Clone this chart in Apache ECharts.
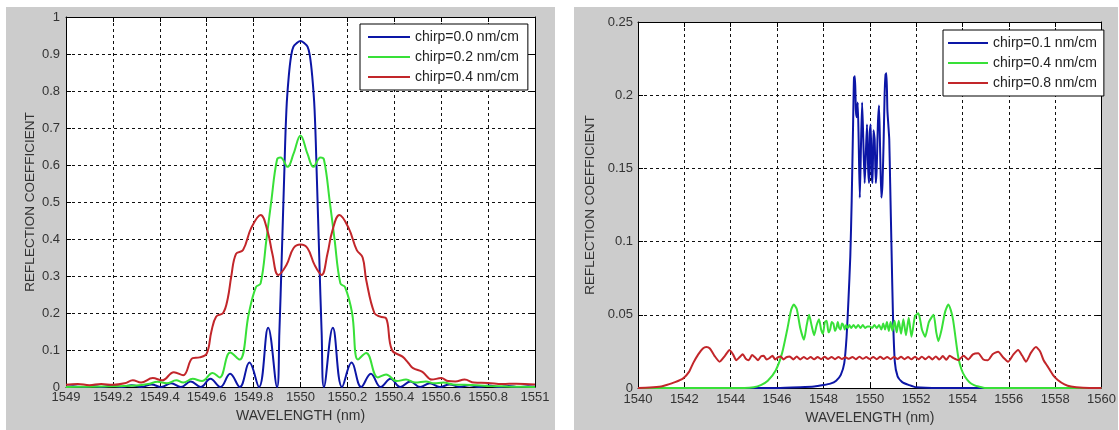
<!DOCTYPE html>
<html>
<head>
<meta charset="utf-8">
<script src="https://cdn.jsdelivr.net/npm/echarts/dist/echarts.min.js"></script>
<style>
html,body{margin:0;padding:0;background:#fff;}
#c{width:1119px;height:430px;}
</style>
</head>
<body>
<div id="c"></div>
<script>
// ---------- Left panel data (wavelength nm, reflection coefficient) ----------
const leftLegend = ['chirp=0.0 nm/cm', 'chirp=0.2 nm/cm', 'chirp=0.4 nm/cm'];
const leftBlue = [
  [1549.00,0.001],[1549.03,0.002],[1549.07,0],[1549.112,0.003],[1549.154,0],[1549.196,0.004],[1549.238,0],
  [1549.28,0.005],[1549.322,0],[1549.364,0.007],[1549.406,0],[1549.448,0.010],[1549.49,0],[1549.532,0.015],
  [1549.574,0],[1549.616,0.022],[1549.658,0],[1549.70,0.036],[1549.741,0],[1549.782,0.066],[1549.823,0],
  [1549.862,0.16],[1549.90,0],[1549.91,0.15],[1549.92,0.35],[1549.93,0.56],[1549.94,0.75],[1549.95,0.84],
  [1549.96,0.895],[1549.97,0.92],[1549.985,0.93],[1550.0,0.935],[1550.015,0.93],[1550.03,0.92],[1550.04,0.895],
  [1550.05,0.84],[1550.06,0.75],[1550.07,0.56],[1550.08,0.35],[1550.09,0.15],[1550.10,0],[1550.138,0.16],
  [1550.177,0],[1550.218,0.066],[1550.259,0],[1550.30,0.036],[1550.342,0],[1550.384,0.022],[1550.426,0],
  [1550.468,0.015],[1550.51,0],[1550.552,0.010],[1550.594,0],[1550.636,0.007],[1550.678,0],[1550.72,0.005],
  [1550.762,0],[1550.804,0.004],[1550.846,0],[1550.888,0.003],[1550.93,0],[1550.97,0.002],[1551.00,0.001]
];
const leftGreen = [
  [1549.00,0],[1549.10,0.001],[1549.20,0.002],[1549.30,0.004],[1549.35,0.008],[1549.39,0.014],[1549.43,0.010],
  [1549.47,0.018],[1549.50,0.012],[1549.54,0.022],[1549.58,0.016],[1549.625,0.038],[1549.655,0.026],
  [1549.70,0.093],[1549.74,0.074],[1549.78,0.20],[1549.81,0.27],[1549.83,0.28],[1549.855,0.40],[1549.875,0.50],
  [1549.90,0.615],[1549.915,0.62],[1549.945,0.595],[1549.97,0.63],[1550.0,0.68],[1550.03,0.63],[1550.055,0.595],
  [1550.085,0.62],[1550.10,0.615],[1550.125,0.50],[1550.145,0.40],[1550.17,0.28],[1550.19,0.27],[1550.22,0.20],
  [1550.245,0.074],[1550.28,0.092],[1550.33,0.026],[1550.365,0.034],[1550.41,0.016],[1550.45,0.020],
  [1550.49,0.012],[1550.535,0.015],[1550.57,0.010],[1550.61,0.012],[1550.65,0.007],[1550.70,0.006],
  [1550.80,0.003],[1550.90,0.001],[1551.00,0]
];
const leftRed = [
  [1549.00,0.006],[1549.05,0.008],[1549.10,0.005],[1549.15,0.008],[1549.20,0.006],[1549.25,0.010],
  [1549.285,0.018],[1549.32,0.012],[1549.37,0.024],[1549.41,0.018],[1549.46,0.040],[1549.50,0.032],
  [1549.54,0.078],[1549.57,0.080],[1549.60,0.09],[1549.62,0.15],[1549.64,0.19],[1549.67,0.20],[1549.69,0.24],
  [1549.705,0.30],[1549.725,0.36],[1549.755,0.37],[1549.79,0.43],[1549.83,0.465],[1549.86,0.42],[1549.88,0.36],
  [1549.905,0.303],[1549.94,0.33],[1549.97,0.375],[1550.0,0.385],[1550.03,0.375],[1550.06,0.33],[1550.09,0.303],
  [1550.115,0.36],[1550.135,0.42],[1550.166,0.465],[1550.205,0.43],[1550.24,0.37],[1550.265,0.35],
  [1550.28,0.29],[1550.315,0.20],[1550.34,0.19],[1550.365,0.186],[1550.39,0.10],[1550.435,0.082],
  [1550.46,0.065],[1550.48,0.051],[1550.52,0.041],[1550.56,0.020],[1550.60,0.024],[1550.63,0.016],
  [1550.66,0.015],[1550.70,0.020],[1550.74,0.012],[1550.80,0.011],[1550.86,0.008],[1550.92,0.009],[1551.00,0.007]
];

// ---------- Right panel data ----------
const rightLegend = ['chirp=0.1 nm/cm', 'chirp=0.4 nm/cm', 'chirp=0.8 nm/cm'];
const rightBlue = [
  [1540,0],[1546,0],[1547,0.0005],[1547.6,0.001],[1548.0,0.002],[1548.3,0.003],[1548.55,0.005],[1548.75,0.009],
  [1548.9,0.017],[1549.0,0.035],[1549.08,0.06],[1549.16,0.09],[1549.22,0.128],[1549.28,0.18],[1549.32,0.212],
  [1549.36,0.213],[1549.40,0.19],[1549.44,0.185],[1549.48,0.195],[1549.52,0.17],[1549.57,0.13],[1549.62,0.165],
  [1549.67,0.195],[1549.72,0.17],[1549.78,0.14],[1549.83,0.16],[1549.88,0.18],[1549.93,0.15],[1549.97,0.14],
  [1550.0,0.175],[1550.04,0.18],[1550.08,0.145],[1550.12,0.14],[1550.16,0.176],[1550.21,0.17],[1550.26,0.14],
  [1550.30,0.15],[1550.35,0.18],[1550.40,0.193],[1550.45,0.16],[1550.5,0.13],[1550.55,0.14],[1550.6,0.17],
  [1550.64,0.2],[1550.68,0.214],[1550.72,0.215],[1550.76,0.19],[1550.8,0.18],[1550.84,0.17],[1550.88,0.14],
  [1550.94,0.094],[1551.0,0.05],[1551.08,0.018],[1551.2,0.008],[1551.4,0.004],[1551.7,0.002],[1552.0,0.0005],
  [1553,0],[1560,0]
];
const rightGreen = [
  [1540,0],[1544.6,0],[1545.0,0.0005],[1545.3,0.002],[1545.6,0.005],[1545.94,0.012],[1546.22,0.024],
  [1546.44,0.040],[1546.6,0.053],[1546.72,0.057],[1546.85,0.054],[1547.0,0.041],[1547.16,0.033],[1547.28,0.043],
  [1547.38,0.050],[1547.5,0.042],[1547.6,0.036],[1547.71,0.043],[1547.81,0.047],[1547.9,0.040],[1547.98,0.037],
  [1548.06,0.045],[1548.14,0.046],[1548.22,0.038],[1548.29,0.040],[1548.36,0.045],[1548.43,0.044],[1548.5,0.039],
  [1548.56,0.041],[1548.62,0.045],[1548.68,0.041],[1548.74,0.040],[1548.8,0.044],[1548.86,0.043],[1548.92,0.040],
  [1548.98,0.043],[1549.05,0.041],[1549.12,0.043],[1549.2,0.041],[1549.3,0.043],[1549.4,0.041],[1549.5,0.043],
  [1549.6,0.041],[1549.7,0.043],[1549.8,0.041],[1549.9,0.042],[1550.0,0.042],[1550.1,0.041],[1550.2,0.043],
  [1550.3,0.041],[1550.4,0.043],[1550.5,0.040],[1550.58,0.044],[1550.66,0.040],[1550.74,0.045],[1550.82,0.039],
  [1550.9,0.045],[1550.98,0.039],[1551.07,0.046],[1551.16,0.038],[1551.25,0.046],[1551.35,0.037],[1551.45,0.047],
  [1551.56,0.036],[1551.68,0.048],[1551.8,0.035],[1551.95,0.049],[1552.1,0.051],[1552.25,0.040],[1552.39,0.035],
  [1552.55,0.045],[1552.75,0.050],[1552.87,0.038],[1552.96,0.032],[1553.1,0.040],[1553.25,0.052],[1553.39,0.057],
  [1553.5,0.053],[1553.6,0.046],[1553.72,0.032],[1553.82,0.021],[1553.95,0.013],[1554.11,0.0077],[1554.3,0.004],
  [1554.5,0.002],[1554.7,0.001],[1555,0],[1560,0]
];
const rightRed = [
  [1540,0],[1540.5,0.0003],[1541.0,0.001],[1541.23,0.002],[1541.6,0.004],[1541.95,0.0066],[1542.2,0.011],
  [1542.38,0.017],[1542.6,0.023],[1542.8,0.027],[1542.95,0.028],[1543.1,0.027],[1543.3,0.022],[1543.52,0.018],
  [1543.75,0.022],[1543.95,0.026],[1544.1,0.023],[1544.24,0.019],[1544.38,0.021],[1544.52,0.023],[1544.65,0.020],
  [1544.78,0.019],[1544.92,0.0225],[1545.05,0.021],[1545.18,0.019],[1545.3,0.0215],[1545.42,0.022],[1545.55,0.0195],
  [1545.68,0.0205],[1545.8,0.022],[1545.92,0.0195],[1546.04,0.021],[1546.16,0.0215],[1546.28,0.0195],[1546.4,0.021],
  [1546.55,0.0215],[1546.7,0.0195],[1546.85,0.0215],[1547.0,0.0195],[1547.15,0.0212],[1547.3,0.0198],
  [1547.45,0.0212],[1547.6,0.0196],[1547.75,0.0212],[1547.9,0.0197],[1548.05,0.0213],[1548.2,0.0198],
  [1548.35,0.0212],[1548.5,0.0197],[1548.65,0.0212],[1548.8,0.0198],[1548.95,0.021],[1549.1,0.0199],
  [1549.25,0.0212],[1549.4,0.0197],[1549.55,0.0214],[1549.7,0.0199],[1549.85,0.0211],[1550.0,0.0198],
  [1550.15,0.0212],[1550.3,0.0197],[1550.45,0.0213],[1550.6,0.0198],[1550.75,0.0212],[1550.9,0.0197],
  [1551.05,0.0212],[1551.2,0.0198],[1551.35,0.0213],[1551.5,0.0197],[1551.65,0.0212],[1551.8,0.0196],
  [1551.95,0.0213],[1552.1,0.0197],[1552.25,0.0214],[1552.4,0.0196],[1552.55,0.0215],[1552.7,0.0195],
  [1552.85,0.0216],[1553.0,0.0194],[1553.15,0.0218],[1553.3,0.0193],[1553.45,0.022],[1553.6,0.0205],
  [1553.82,0.019],[1554.05,0.022],[1554.25,0.0195],[1554.45,0.023],[1554.68,0.0237],[1554.9,0.0195],
  [1555.1,0.019],[1555.3,0.023],[1555.54,0.0248],[1555.75,0.021],[1555.97,0.018],[1556.2,0.023],[1556.4,0.026],
  [1556.58,0.022],[1556.74,0.018],[1556.95,0.024],[1557.17,0.028],[1557.35,0.025],[1557.5,0.019],
  [1557.68,0.0146],[1557.9,0.009],[1558.11,0.0055],[1558.4,0.0025],[1558.68,0.001],[1559.2,0.0002],[1560,0]
];

const COLORS = ['#0c16a6', '#38e038', '#c2262a'];
const FONT = '"Liberation Sans", Arial, sans-serif';
const plainNum = v => String(parseFloat(Number(v).toFixed(4)));

function xAxes(grid, min, max, interval, gap) {
  const common = {
    gridIndex: grid, type: 'value', min: min, max: max, interval: interval,
    axisLine: {show: true, onZero: false, lineStyle: {color: '#000', width: 1}},
    axisTick: {show: true, inside: true, length: 5, lineStyle: {color: '#000'}}
  };
  return [
    Object.assign({}, common, {
      position: 'bottom',
      axisLabel: {color: '#333', fontSize: 13, fontFamily: FONT, margin: gap, formatter: plainNum},
      splitLine: {show: true, lineStyle: {color: '#111', type: [3, 3], width: 1}},
      name: 'WAVELENGTH (nm)', nameLocation: 'middle', nameGap: 22,
      nameTextStyle: {color: '#333', fontSize: 14, fontFamily: FONT}
    }),
    Object.assign({}, common, {position: 'top', axisLabel: {show: false}, splitLine: {show: false}})
  ];
}
function yAxes(grid, min, max, interval, nameGap, labelMargin) {
  const common = {
    gridIndex: grid, type: 'value', min: min, max: max, interval: interval,
    axisLine: {show: true, onZero: false, lineStyle: {color: '#000', width: 1}},
    axisTick: {show: true, inside: true, length: 5, lineStyle: {color: '#000'}}
  };
  return [
    Object.assign({}, common, {
      position: 'left',
      axisLabel: {color: '#333', fontSize: 13, fontFamily: FONT, margin: labelMargin, formatter: plainNum},
      splitLine: {show: true, lineStyle: {color: '#111', type: [3, 3], width: 1}},
      name: 'REFLECTION COEFFICIENT', nameLocation: 'middle', nameGap: nameGap,
      nameTextStyle: {color: '#333', fontSize: 13.5, fontFamily: FONT}
    }),
    Object.assign({}, common, {position: 'right', axisLabel: {show: false}, splitLine: {show: false}})
  ];
}

const labelOf = {L0: leftLegend[0], L2: leftLegend[1], L4: leftLegend[2], R1: rightLegend[0], R4: rightLegend[1], R8: rightLegend[2]};

function line(id, data, color, xi, yi, smooth) {
  return {
    name: id, type: 'line', data: data, xAxisIndex: xi, yAxisIndex: yi,
    showSymbol: false, symbol: 'none', smooth: smooth, animation: false,
    lineStyle: {color: color, width: 2}, itemStyle: {color: color}
  };
}

const chart = echarts.init(document.getElementById('c'), null, {renderer: 'canvas'});
chart.setOption({
  backgroundColor: '#ffffff',
  animation: false,
  graphic: [
    {type: 'rect', z: -10, silent: true, shape: {x: 6, y: 7, width: 549, height: 423}, style: {fill: '#cccccc'}},
    {type: 'rect', z: -10, silent: true, shape: {x: 574, y: 7, width: 544, height: 423}, style: {fill: '#cccccc'}}
  ],
  grid: [
    {left: 66, top: 17, width: 469, height: 370, backgroundColor: '#fff', show: true, borderWidth: 0},
    {left: 638, top: 22, width: 466, height: 366, backgroundColor: '#fff', show: true, borderWidth: 0}
  ],
  xAxis: xAxes(0, 1549, 1551, 0.2, 4).concat(xAxes(1, 1540, 1560, 2, 5)),
  yAxis: yAxes(0, 0, 1, 0.1, 29, 6).concat(yAxes(1, 0, 0.25, 0.05, 41, 5)),
  legend: [
    {
      data: ['L0', 'L2', 'L4'], orient: 'vertical', left: 360, top: 24,
      padding: [6, 9, 6, 8], itemGap: 6, itemWidth: 42, itemHeight: 2, icon: 'rect', itemTextGap: 5,
      backgroundColor: '#fff', borderColor: '#000', borderWidth: 1, borderRadius: 0,
      formatter: n => labelOf[n], selectedMode: false,
      textStyle: {color: '#222', fontSize: 14, fontFamily: FONT}
    },
    {
      data: ['R1', 'R4', 'R8'], orient: 'vertical', left: 943, top: 30,
      padding: [6, 7, 6, 5], itemGap: 6, itemWidth: 40, itemHeight: 2, icon: 'rect', itemTextGap: 4,
      backgroundColor: '#fff', borderColor: '#000', borderWidth: 1, borderRadius: 0,
      formatter: n => labelOf[n], selectedMode: false,
      textStyle: {color: '#222', fontSize: 14, fontFamily: FONT}
    }
  ],
  series: [
    line('L0', leftBlue, COLORS[0], 0, 0, 0.4),
    line('L2', leftGreen, COLORS[1], 0, 0, 0.4),
    line('L4', leftRed, COLORS[2], 0, 0, 0.4),
    line('R1', rightBlue, COLORS[0], 2, 2, 0.2),
    line('R4', rightGreen, COLORS[1], 2, 2, 0.2),
    line('R8', rightRed, COLORS[2], 2, 2, 0.2)
  ]
});
</script>
</body>
</html>
